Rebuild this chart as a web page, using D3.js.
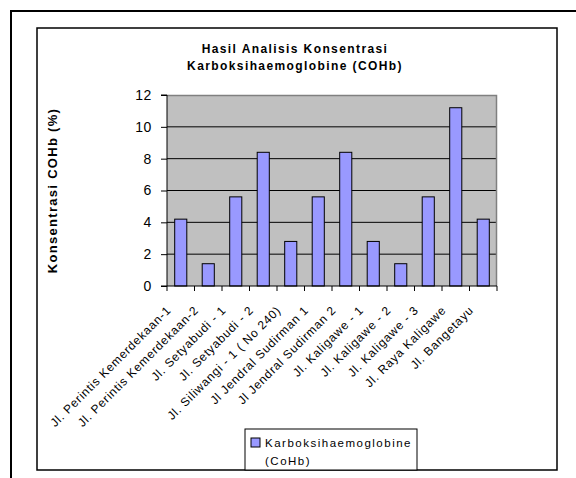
<!DOCTYPE html>
<html>
<head>
<meta charset="utf-8">
<script src="https://cdn.jsdelivr.net/npm/d3@7"></script>
<style>
  body { margin: 0; background: #fff; }
  svg { display: block; font-family: "Liberation Sans", Arial, sans-serif; }
</style>
</head>
<body>
<svg id="chart" width="576" height="478"></svg>
<script>
let categories = [
    "Jl. Perintis Kemerdekaan-1",
    "Jl. Perintis Kemerdekaan-2",
    "Jl. Setyabudi - 1",
    "Jl. Setyabudi - 2",
    "Jl. Siliwangi - 1 ( No 240)",
    "Jl Jendral Sudirman 1",
    "Jl Jendral Sudirman 2",
    "Jl. Kaligawe - 1",
    "Jl. Kaligawe - 2",
    "Jl. Kaligawe - 3",
    "Jl. Raya Kaligawe",
    "Jl. Bangetayu"
];
let values = [4.2, 1.4, 5.6, 8.4, 2.8, 5.6, 8.4, 2.8, 1.4, 5.6, 11.2, 4.2];
let yTicks = [0, 2, 4, 6, 8, 10, 12];
let titleLines = ["Hasil Analisis Konsentrasi", "Karboksihaemoglobine (COHb)"];
let seriesName = ["Karboksihaemoglobine", "(CoHb)"];

let plot = {left: 167, right: 497, top: 95, bottom: 286};

let svg = d3.select("#chart");

// outer frame (runs off the bottom and right of the picture)
svg.append("path")
    .attr("d", "M11,490 L11,11 L590,11")
    .attr("fill", "none")
    .attr("stroke", "#000")
    .attr("stroke-width", 2);

// chart area frame
svg.append("rect")
    .attr("x", 37).attr("y", 28)
    .attr("width", 520).attr("height", 442)
    .attr("fill", "#fff")
    .attr("stroke", "#000")
    .attr("stroke-width", 1.5);

let x = d3.scaleBand()
    .domain(categories)
    .range([plot.left, plot.right])
    .paddingInner(0.56)
    .paddingOuter(0.28);

let y = d3.scaleLinear()
    .domain([0, 12])
    .range([plot.bottom, plot.top]);

// plot background
svg.append("rect")
    .attr("x", plot.left).attr("y", plot.top)
    .attr("width", plot.right - plot.left)
    .attr("height", plot.bottom - plot.top)
    .attr("fill", "#c0c0c0");

// grid lines
svg.append("g")
    .selectAll("line")
    .data(yTicks.filter(d => d > 0 && d < 12))
    .enter()
    .append("line")
    .attr("x1", plot.left).attr("x2", plot.right)
    .attr("y1", d => y(d)).attr("y2", d => y(d))
    .attr("stroke", "#000")
    .attr("stroke-width", 1);

// gray top & right border of plot area
svg.append("path")
    .attr("d", `M${plot.left},${plot.top + 0.5} L${plot.right - 0.5},${plot.top + 0.5} L${plot.right - 0.5},${plot.bottom}`)
    .attr("fill", "none")
    .attr("stroke", "#808080")
    .attr("stroke-width", 1.5);

// bars
svg.append("g")
    .selectAll("rect")
    .data(values)
    .enter()
    .append("rect")
    .attr("x", (d, i) => x(categories[i]))
    .attr("y", d => y(d))
    .attr("width", x.bandwidth())
    .attr("height", d => y(0) - y(d))
    .attr("fill", "#9999ff")
    .attr("stroke", "#000")
    .attr("stroke-width", 1);

// y axis
let yAxis = d3.axisLeft(y)
    .tickValues(yTicks)
    .tickSize(6)
    .tickPadding(9);
let yG = svg.append("g")
    .attr("transform", `translate(${plot.left},0)`)
    .call(yAxis);
yG.select(".domain").attr("stroke", "#000").attr("d", `M-6,${plot.top}H0V${plot.bottom}H-6`);
yG.selectAll("text").attr("font-size", 14).attr("fill", "#000").attr("letter-spacing", 0.6);

// x axis line and ticks at category boundaries
let step = x.step();
let xG = svg.append("g");
xG.append("line")
    .attr("x1", plot.left).attr("x2", plot.right)
    .attr("y1", plot.bottom).attr("y2", plot.bottom)
    .attr("stroke", "#000");
xG.selectAll("line.tk")
    .data(d3.range(categories.length + 1))
    .enter()
    .append("line")
    .attr("class", "tk")
    .attr("x1", i => plot.left + i * step)
    .attr("x2", i => plot.left + i * step)
    .attr("y1", plot.bottom)
    .attr("y2", plot.bottom + 5)
    .attr("stroke", "#000");

// x labels rotated
xG.selectAll("text")
    .data(categories)
    .enter()
    .append("text")
    .attr("transform", d => `translate(${x(d) + x.bandwidth() / 2 - 9},${plot.bottom + 25}) rotate(-45)`)
    .attr("text-anchor", "end")
    .attr("font-size", 12)
    .attr("letter-spacing", 0.8)
    .text(d => d);

// title
svg.append("g")
    .selectAll("text")
    .data(titleLines)
    .enter()
    .append("text")
    .attr("x", 295)
    .attr("y", (d, i) => 53 + i * 17)
    .attr("text-anchor", "middle")
    .attr("font-size", 12)
    .attr("font-weight", "bold")
    .attr("letter-spacing", 1.4)
    .text(d => d);

// y axis title
svg.append("text")
    .attr("transform", `translate(57,${(plot.top + plot.bottom) / 2}) rotate(-90)`)
    .attr("text-anchor", "middle")
    .attr("font-size", 13)
    .attr("font-weight", "bold")
    .attr("letter-spacing", 1.3)
    .text("Konsentrasi COHb (%)");

// legend
let leg = svg.append("g");
leg.append("rect")
    .attr("x", 245).attr("y", 429)
    .attr("width", 172).attr("height", 41)
    .attr("fill", "#fff")
    .attr("stroke", "#000")
    .attr("stroke-width", 1);
leg.append("rect")
    .attr("x", 251).attr("y", 438)
    .attr("width", 9).attr("height", 9)
    .attr("fill", "#9999ff")
    .attr("stroke", "#000");
leg.selectAll("text")
    .data(seriesName)
    .enter()
    .append("text")
    .attr("x", 265)
    .attr("y", (d, i) => 447 + i * 18)
    .attr("font-size", 11.5)
    .attr("letter-spacing", 1.5)
    .text(d => d);
</script>
</body>
</html>
